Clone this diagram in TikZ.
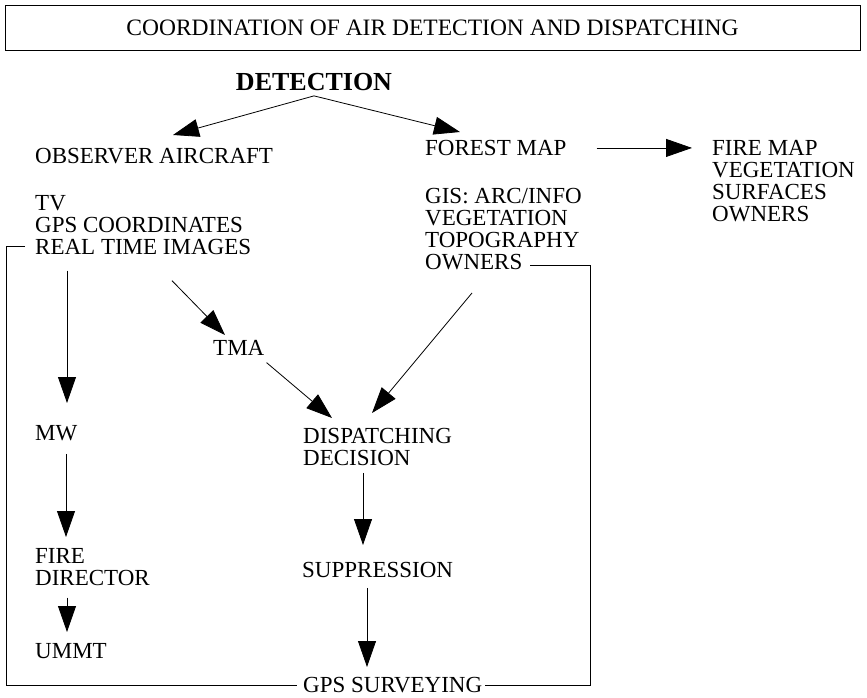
\documentclass[tikz,border=0pt]{standalone}
\usepackage{fontspec}
\setmainfont{Liberation Serif}
\usetikzlibrary{arrows.meta}

\begin{document}
\begin{tikzpicture}[x=1pt,y=-1pt,
  txt/.style={anchor=north west,inner sep=0pt,align=left,font=\fontsize{23}{22}\selectfont},
  arr/.style={line width=0.8pt,-{Triangle[length=26pt,width=18pt]}},
  link/.style={line width=0.8pt}]
  \useasboundingbox (0,0) rectangle (867,698);

  % Title
  \node[draw,line width=0.8pt,minimum width=855pt,minimum height=45pt,inner sep=0pt,
        font=\fontsize{23.5}{23.5}\selectfont] (title) at (432.5,27.5)
        {COORDINATION OF AIR DETECTION AND DISPATCHING};
  \node[anchor=north,inner sep=0pt,font=\bfseries\fontsize{26}{26}\selectfont] (det) at (314,73) {DETECTION};

  % Nodes
  \node[txt] (obs) at (35,148) {OBSERVER AIRCRAFT};
  \node[txt] (tv) at (35,195) {TV\\GPS COORDINATES\\REAL TIME IMAGES};
  \node[txt] (forest) at (425,140) {FOREST MAP};
  \node[txt] (gis) at (425,188) {GIS: ARC/INFO\\VEGETATION\\TOPOGRAPHY\\OWNERS};
  \node[txt] (fmap) at (712,140) {FIRE MAP\\VEGETATION\\SURFACES\\OWNERS};
  \node[txt] (tma) at (213,340) {TMA};
  \node[txt] (mw) at (35,425) {MW};
  \node[txt] (fire) at (35,548) {FIRE\\DIRECTOR};
  \node[txt] (ummt) at (35,643) {UMMT};
  \node[txt] (disp) at (303,428) {DISPATCHING\\DECISION};
  \node[txt] (supp) at (302,562) {SUPPRESSION};
  \node[txt] (gps) at (303,677) {GPS SURVEYING};

  % Arrows
  \draw[arr] ([yshift=-5pt]det.south) -- ([xshift=138pt,yshift=13pt]obs.north west);
  \draw[arr] ([yshift=-5pt]det.south) -- ([xshift=35pt,yshift=8pt]forest.north west);
  \draw[arr] ([xshift=30pt]forest.east) -- ([xshift=-20pt]forest.east -| fmap.west);
  \draw[arr] ([xshift=32pt,yshift=-16pt]tv.south west) -- ([xshift=32pt,yshift=22pt]mw.north west);
  \draw[arr] ([xshift=137pt,yshift=-26pt]tv.south west) -- ([xshift=12pt,yshift=5pt]tma.north west);
  \draw[arr] ([xshift=2pt,yshift=-7pt]tma.south east) -- ([xshift=29pt,yshift=10pt]disp.north west);
  \draw[arr] ([xshift=47pt,yshift=-23pt]gis.south west) -- ([xshift=69pt,yshift=15pt]disp.north west);
  \draw[arr] ([xshift=31pt,yshift=-13pt]mw.south west) -- ([xshift=31pt,yshift=11pt]fire.north west);
  \draw[arr] ([xshift=32pt,yshift=-12pt]fire.south west) -- ([xshift=32pt,yshift=11pt]ummt.north west);
  \draw[arr] ([xshift=60pt,yshift=-7pt]disp.south west) -- ([xshift=61pt,yshift=17pt]supp.north west);
  \draw[arr] ([xshift=65pt,yshift=-10pt]supp.south west) -- ([xshift=64pt,yshift=10pt]gps.north west);

  % Links to GPS surveying
  \draw[link] ([xshift=-10pt,yshift=8pt]tv.south west) -- ++(-19,0) |- ([xshift=-6pt]gps.west);
  \draw[link] ([xshift=105pt,yshift=5pt]gis.south west) -- ++(60,0) |- ([xshift=3pt]gps.east);
\end{tikzpicture}
\end{document}
